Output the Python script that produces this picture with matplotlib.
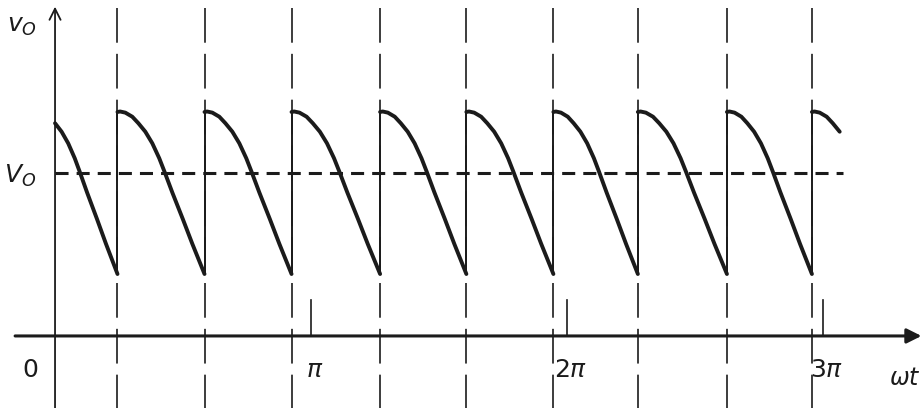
import matplotlib
matplotlib.use('Agg')
import matplotlib.pyplot as plt
import numpy as np

#-----------------------------------------------------------------------
# output ripple of the rectifier, x in units of pi (wt / pi)

# commutation instants where the next phase takes over
commutations = [0.244, 0.584, 0.924, 1.270, 1.607, 1.947, 2.277, 2.625, 2.957]

# shape of one ripple: fraction of the interval -> vo / Vo
ripple_frac = [0.00, 0.03, 0.09, 0.17, 0.24, 0.32, 0.40, 0.48, 0.54,
               0.63, 0.75, 0.86, 1.00]
ripple_val = [1.374, 1.377, 1.370, 1.345, 1.305, 1.253, 1.182, 1.090, 1.008,
              0.880, 0.718, 0.565, 0.380]

V_avg = 1.0
tick_pos = [1, 2, 3]
tick_labels = [r'$\pi$', r'$2\pi$', r'$3\pi$']

#-----------------------------------------------------------------------

plt.rcParams['lines.scale_dashes'] = False
ink = '#1b1b1b'

fig = plt.figure(figsize=(9.23, 4.08), dpi=100)
ax = fig.add_axes([0, 0, 1, 1])
ax.set_xlim(-0.215, 3.391)
ax.set_ylim(-0.442, 2.061)
ax.axis('off')

frac = np.array(ripple_frac)
val = np.array(ripple_val)
width = np.mean(np.diff(commutations))
curve = dict(color=ink, lw=2.8, solid_capstyle='round', solid_joinstyle='round')

# first (partial) ripple, already falling at wt = 0
keep = frac >= 0.24
first_width = commutations[0] / (1 - 0.24)
ax.plot(commutations[0] - first_width + frac[keep] * first_width, val[keep], **curve)

# full ripples between commutations
for a, b in zip(commutations[:-1], commutations[1:]):
    ax.plot(a + frac * (b - a), val, **curve)

# last (partial) ripple
keep = frac <= 0.33
ax.plot(commutations[-1] + frac[keep] * width, val[keep], **curve)

for c in commutations:
    # jump at each commutation
    ax.plot([c, c], [ripple_val[-1], ripple_val[0]], color=ink, lw=1.4)
    # dashed commutation markers
    ax.plot([c, c], [2.01, -0.442], color=ink, lw=1.2, ls=(0, (25, 8)))

# average value
ax.plot([0, 3.08], [V_avg, V_avg], color=ink, lw=2.2, ls=(0, (9.4, 5.8)))

# axes with arrows
ax.annotate('', xy=(3.385, 0), xytext=(-0.156, 0),
            arrowprops=dict(arrowstyle='-|>', color=ink, lw=2.2,
                            mutation_scale=22, shrinkA=0, shrinkB=0))
ax.annotate('', xy=(0, 2.02), xytext=(0, -0.442),
            arrowprops=dict(arrowstyle='->', color=ink, lw=1.3,
                            mutation_scale=20, shrinkA=0, shrinkB=0))

for t, lab in zip(tick_pos, tick_labels):
    ax.plot([t, t], [0, 0.22], color=ink, lw=1.2)
    ax.text(t + 0.015, -0.21, lab, ha='center', va='center',
            fontsize=18, color=ink)

ax.text(-0.098, -0.21, '0', ha='center', va='center', fontsize=18, color=ink)
ax.text(3.32, -0.26, r'$\omega t$', ha='center', va='center',
        fontsize=17, color=ink)
ax.text(-0.13, 1.90, r'$v_O$', ha='center', va='center', fontsize=18, color=ink)
ax.text(-0.135, 0.98, r'$V_O$', ha='center', va='center', fontsize=18, color=ink)

fig.savefig('out.png', dpi=100)
